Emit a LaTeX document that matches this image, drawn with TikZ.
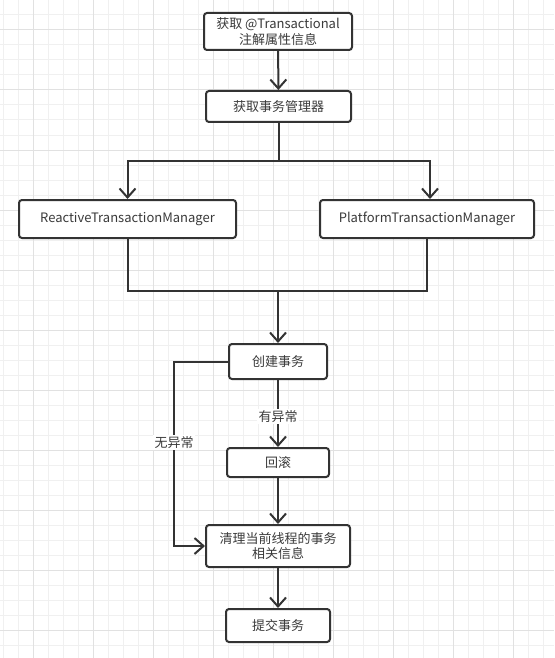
\documentclass[tikz,border=0pt]{standalone}
\usepackage{fontspec}
\setmainfont{Noto Sans CJK SC}
\usetikzlibrary{arrows.meta}

\definecolor{lineGray}{HTML}{333333}
\definecolor{textGray}{HTML}{3A3A3A}
\definecolor{gridMinor}{HTML}{F0F0F0}
\definecolor{gridMajor}{HTML}{E1E1E1}

\tikzset{
  flowbox/.style={draw=lineGray, line width=2pt, rounded corners=3pt, fill=white,
    text=textGray, align=center, inner sep=0pt, font=\fontsize{13}{15.5}\selectfont},
  flowline/.style={draw=lineGray, line width=2pt},
  flowarrow/.style={flowline, -{Straight Barb[length=9pt,width=16pt]}},
  edgelabel/.style={fill=white, text=textGray, inner sep=1.5pt,
    font=\fontsize{13}{15.5}\selectfont}
}

\begin{document}
\begin{tikzpicture}[x=1pt,y=-1pt]
    % Sfondo e griglia
    \useasboundingbox[fill=white] (0,0) rectangle (554,658);
    \foreach \i in {0,...,36}
        \draw[gridMinor, line width=1pt] ({3.33+15*\i},0) -- ({3.33+15*\i},658);
    \foreach \i in {0,...,43}
        \draw[gridMinor, line width=1pt] (0,{15*\i}) -- (554,{15*\i});
    \foreach \i in {0,...,8}
        \draw[gridMajor, line width=1pt] ({33.33+60*\i},0) -- ({33.33+60*\i},658);
    \foreach \i in {0,...,10}
        \draw[gridMajor, line width=1pt] (0,{30+60*\i}) -- (554,{30+60*\i});

    % Blocchi del flusso
    \node[flowbox, minimum width=148pt, minimum height=37pt] (getAttr) at (278,31.5)
        {获取 @Transactional\\注解属性信息};
    \node[flowbox, minimum width=145pt, minimum height=31pt] (getMgr) at (278.5,106.5)
        {获取事务管理器};
    \node[flowbox, minimum width=217pt, minimum height=38pt] (reactive) at (127.5,219)
        {ReactiveTransactionManager};
    \node[flowbox, minimum width=214pt, minimum height=38pt] (platform) at (427,219)
        {PlatformTransactionManager};
    \node[flowbox, minimum width=98pt, minimum height=35pt] (createTx) at (278,361.5)
        {创建事务};
    \node[flowbox, minimum width=102pt, minimum height=29pt] (rollback) at (278,462.5)
        {回滚};
    \node[flowbox, minimum width=144pt, minimum height=42pt] (cleanup) at (278,546)
        {清理当前线程的事务\\相关信息};
    \node[flowbox, minimum width=104pt, minimum height=33pt] (commitTx) at (278,625.5)
        {提交事务};

    % Punti di diramazione
    \coordinate (split) at (278.5,161);
    \coordinate (merge) at (278,291);
    \coordinate (bypass) at (174,361.5);

    % Connettori
    \draw[flowarrow] (getAttr) -- (getMgr);
    \draw[flowline] (getMgr) -- (split);
    \draw[flowarrow] (split) -| (reactive);
    \draw[flowarrow] (split) -| ([xshift=3pt]platform.north);
    \draw[flowline] (reactive) |- (merge);
    \draw[flowline] (platform) |- (merge);
    \draw[flowarrow] (merge) -- (createTx);
    \draw[flowarrow] (createTx) -- node[edgelabel, pos=0.55] {有异常} (rollback);
    \draw[flowarrow] (createTx.west) -- (bypass) |- node[edgelabel, pos=0.22] {无异常} (cleanup.west);
    \draw[flowarrow] (rollback) -- (cleanup);
    \draw[flowarrow] (cleanup) -- (commitTx);

\end{tikzpicture}
\end{document}
